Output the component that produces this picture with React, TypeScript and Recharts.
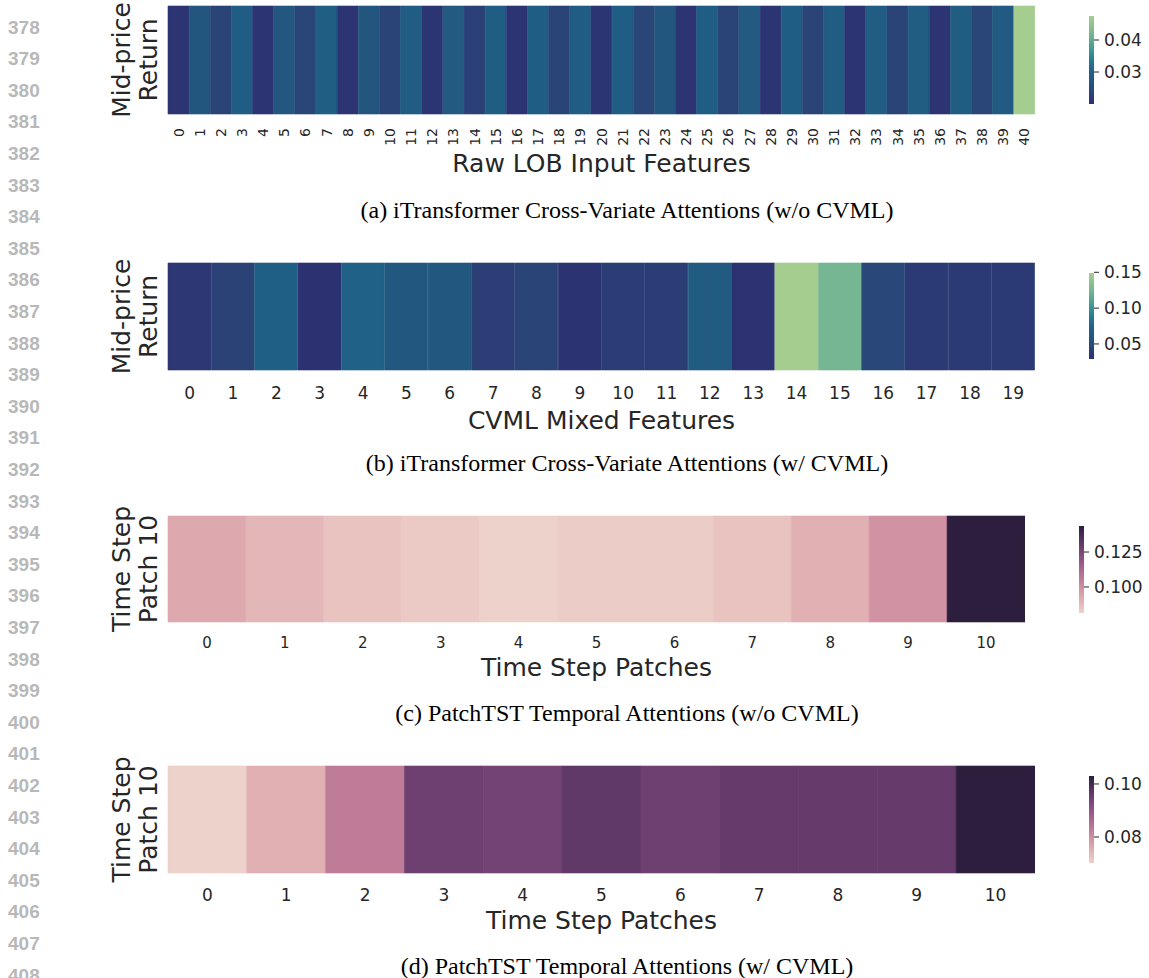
import { Bar, BarChart, Cell, XAxis, YAxis } from "recharts";

// categories
const rawFeatures = Array.from({ length: 41 }, (_, i) => String(i));
const mixedFeatures = Array.from({ length: 20 }, (_, i) => String(i));
const patches = Array.from({ length: 11 }, (_, i) => String(i));

// attention weights
const attnRaw = [
  0.0205, 0.0268, 0.0236, 0.029, 0.0205, 0.0272, 0.0238, 0.0292, 0.0206, 0.027,
  0.0237, 0.0288, 0.0207, 0.028, 0.023, 0.0289, 0.0206, 0.0291, 0.0236, 0.0288,
  0.0207, 0.0289, 0.0238, 0.0268, 0.0206, 0.029, 0.0237, 0.028, 0.0207, 0.0289,
  0.0236, 0.0287, 0.0206, 0.0288, 0.0237, 0.0286, 0.0206, 0.0286, 0.0238, 0.0284,
  0.0475,
];
const attnMixed = [
  0.034, 0.043, 0.071, 0.029, 0.073, 0.061, 0.061, 0.04, 0.045, 0.031,
  0.039, 0.039, 0.065, 0.03, 0.149, 0.125, 0.048, 0.037, 0.037, 0.037,
];
const attnTemporal = [0.0925, 0.0885, 0.0852, 0.0835, 0.0814, 0.0826, 0.0826, 0.0852, 0.0905, 0.0985, 0.1436];
const attnTemporalCvml = [0.0702, 0.075, 0.083, 0.0948, 0.094, 0.0964, 0.0948, 0.0958, 0.0958, 0.0958, 0.103];

// colorbar ranges and ticks
const domainRaw = [0.02, 0.0475];
const ticksRaw = [0.03, 0.04];
const domainMixed = [0.029, 0.149];
const ticksMixed = [0.05, 0.1, 0.15];
const domainTemporal = [0.0814, 0.1436];
const ticksTemporal = [0.1, 0.125];
const domainTemporalCvml = [0.0702, 0.103];
const ticksTemporalCvml = [0.08, 0.1];

const lineNumbers = Array.from({ length: 31 }, (_, i) => 378 + i);

const INK = "#262626";
const SANS = "'DejaVu Sans', sans-serif";
const SERIF = "'Liberation Serif', 'Times New Roman', serif";
const Y_W = 68;
const PAD = 24; // room above the plot for the rotated y labels

// crest (reversed): dark indigo -> light green
const CREST: [number, string][] = [
  [0, "#2c3172"],
  [0.12, "#2b4276"],
  [0.25, "#23567f"],
  [0.36, "#1f6086"],
  [0.5, "#2a7b93"],
  [0.65, "#45a093"],
  [0.8, "#77b692"],
  [1, "#a5cd90"],
];

const hexRgb = (h: string) => [1, 3, 5].map((k) => parseInt(h.slice(k, k + 2), 16));
const toHex = (c: number[]) =>
  "#" + c.map((v) => Math.round(Math.max(0, Math.min(255, v))).toString(16).padStart(2, "0")).join("");

function crest(t: number) {
  const u = Math.max(0, Math.min(1, t));
  for (let i = 1; i < CREST.length; i++) {
    const [p1, c1] = CREST[i];
    const [p0, c0] = CREST[i - 1];
    if (u <= p1) {
      const f = (u - p0) / (p1 - p0);
      const a = hexRgb(c0);
      const b = hexRgb(c1);
      return toHex(a.map((v, k) => v + (b[k] - v) * f));
    }
  }
  return CREST[CREST.length - 1][1];
}

// seaborn default cubehelix_palette (light pink -> dark purple)
function cubehelix(t: number) {
  const x = 0.85 - 0.7 * Math.max(0, Math.min(1, t));
  const a = (0.8 * x * (1 - x)) / 2;
  const phi = 2 * Math.PI * (0.4 * x);
  const c = Math.cos(phi);
  const s = Math.sin(phi);
  const r = x + a * (-0.14861 * c + 1.78277 * s);
  const g = x + a * (-0.29227 * c - 0.90649 * s);
  const b = x + a * (1.97294 * c);
  return toHex([r * 255, g * 255, b * 255]);
}

type HeatProps = {
  names: string[];
  values: number[];
  domain: number[];
  colorOf: (t: number) => string;
  left: number;
  top: number;
  plotW: number;
  plotH: number;
  tickFont: number;
  tickDy: number;
  rotate?: boolean;
  xLabel: string;
  xLabelDy: number;
  yLines: string[];
};

function Heatmap(p: HeatProps) {
  const [lo, hi] = p.domain;
  const rows = p.names.map((name, i) => ({ name, value: p.values[i], band: 1 }));
  const fillOf = (v: number) => p.colorOf((v - lo) / (hi - lo));
  const axisH = 80;
  const plotBottom = PAD + p.plotH;
  const midY = PAD + p.plotH / 2;

  const renderTick = (t: any) =>
    p.rotate ? (
      <text
        x={t.x}
        y={t.y + p.tickDy}
        transform={`rotate(-90, ${t.x}, ${t.y + p.tickDy})`}
        textAnchor="end"
        dominantBaseline="central"
        fontSize={p.tickFont}
        fontFamily={SANS}
        fill={INK}
      >
        {t.payload.value}
      </text>
    ) : (
      <text
        x={t.x}
        y={t.y + p.tickDy}
        textAnchor="middle"
        dominantBaseline="central"
        fontSize={p.tickFont}
        fontFamily={SANS}
        fill={INK}
      >
        {t.payload.value}
      </text>
    );

  return (
    <div style={{ position: "absolute", left: p.left - Y_W, top: p.top - PAD }}>
      <BarChart
        width={Y_W + p.plotW}
        height={PAD + p.plotH + axisH}
        data={rows}
        margin={{ top: PAD, right: 0, bottom: 0, left: 0 }}
        barCategoryGap={0}
        barGap={0}
      >
        <XAxis
          dataKey="name"
          interval={0}
          height={axisH}
          axisLine={false}
          tickLine={false}
          tickSize={0}
          tickMargin={0}
          tick={renderTick}
          label={() => (
            <text
              x={Y_W + p.plotW / 2}
              y={plotBottom + p.xLabelDy}
              textAnchor="middle"
              dominantBaseline="central"
              fontSize={25}
              fontFamily={SANS}
              fill={INK}
            >
              {p.xLabel}
            </text>
          )}
        />
        <YAxis
          domain={[0, 1]}
          width={Y_W}
          axisLine={false}
          tickLine={false}
          tick={false}
          label={() => (
            <g>
              {p.yLines.map((line, i) => (
                <text
                  key={line}
                  x={21 + i * 27}
                  y={midY}
                  transform={`rotate(-90, ${21 + i * 27}, ${midY})`}
                  textAnchor="middle"
                  dominantBaseline="central"
                  fontSize={25}
                  fontFamily={SANS}
                  fill={INK}
                >
                  {line}
                </text>
              ))}
            </g>
          )}
        />
        <Bar dataKey="band" isAnimationActive={false}>
          {rows.map((r, i) => (
            <Cell key={i} fill={fillOf(r.value)} stroke={fillOf(r.value)} strokeWidth={0.6} />
          ))}
        </Bar>
      </BarChart>
    </div>
  );
}

type BarProps = {
  id: string;
  domain: number[];
  ticks: number[];
  digits: number;
  colorOf: (t: number) => string;
  left: number;
  top: number;
  height: number;
};

function ColorBar(p: BarProps) {
  const stops = Array.from({ length: 21 }, (_, i) => i / 20);
  return (
    <div style={{ position: "absolute", left: p.left, top: p.top - 12 }}>
      <BarChart
        width={75}
        height={p.height + 24}
        data={[{ name: "cb", range: p.domain }]}
        margin={{ top: 12, right: 0, bottom: 12, left: 0 }}
        barCategoryGap={0}
      >
        <defs>
          <linearGradient id={p.id} x1="0" y1="1" x2="0" y2="0">
            {stops.map((s) => (
              <stop key={s} offset={s} stopColor={p.colorOf(s)} />
            ))}
          </linearGradient>
        </defs>
        <XAxis dataKey="name" hide />
        <YAxis
          orientation="right"
          type="number"
          domain={p.domain}
          ticks={p.ticks}
          allowDataOverflow
          width={70}
          axisLine={false}
          tickSize={5}
          tickMargin={5}
          tickLine={{ stroke: INK, strokeWidth: 1 }}
          tick={{ fontSize: 17, fill: INK, fontFamily: SANS }}
          tickFormatter={(v: number) => v.toFixed(p.digits)}
        />
        <Bar dataKey="range" fill={`url(#${p.id})`} isAnimationActive={false} />
      </BarChart>
    </div>
  );
}

const captions = [
  { text: "(a) iTransformer Cross-Variate Attentions (w/o CVML)", y: 210 },
  { text: "(b) iTransformer Cross-Variate Attentions (w/ CVML)", y: 463 },
  { text: "(c) PatchTST Temporal Attentions (w/o CVML)", y: 713 },
  { text: "(d) PatchTST Temporal Attentions (w/ CVML)", y: 966 },
];

export default function App() {
  return (
    <div
      style={{
        position: "absolute",
        left: 0,
        top: 0,
        width: 1149,
        height: 978,
        overflow: "hidden",
        background: "#fff",
      }}
    >
      <svg width={1149} height={978} style={{ position: "absolute", left: 0, top: 0 }}>
        {lineNumbers.map((n, i) => (
          <text
            key={n}
            x={8}
            y={27 + i * 31.6}
            dominantBaseline="central"
            fontSize={19}
            fontWeight="bold"
            fontFamily="'Liberation Sans', Arial, sans-serif"
            fill="#b8b8b8"
          >
            {n}
          </text>
        ))}
        {captions.map((c) => (
          <text
            key={c.text}
            x={627}
            y={c.y}
            textAnchor="middle"
            dominantBaseline="central"
            fontSize={24}
            fontFamily={SERIF}
            fill="#000"
          >
            {c.text}
          </text>
        ))}
      </svg>

      <Heatmap
        names={rawFeatures}
        values={attnRaw}
        domain={domainRaw}
        colorOf={crest}
        left={168}
        top={6}
        plotW={867}
        plotH={108}
        tickFont={14}
        tickDy={14}
        rotate
        xLabel="Raw LOB Input Features"
        xLabelDy={49}
        yLines={["Mid-price", "Return"]}
      />
      <ColorBar id="cbA" domain={domainRaw} ticks={ticksRaw} digits={2} colorOf={crest} left={1089} top={16} height={88} />

      <Heatmap
        names={mixedFeatures}
        values={attnMixed}
        domain={domainMixed}
        colorOf={crest}
        left={168}
        top={263}
        plotW={867}
        plotH={107}
        tickFont={17}
        tickDy={23}
        xLabel="CVML Mixed Features"
        xLabelDy={50}
        yLines={["Mid-price", "Return"]}
      />
      <ColorBar id="cbB" domain={domainMixed} ticks={ticksMixed} digits={2} colorOf={crest} left={1089} top={273} height={86} />

      <Heatmap
        names={patches}
        values={attnTemporal}
        domain={domainTemporal}
        colorOf={cubehelix}
        left={168}
        top={516}
        plotW={857}
        plotH={106}
        tickFont={15}
        tickDy={21}
        xLabel="Time Step Patches"
        xLabelDy={45}
        yLines={["Time Step", "Patch 10"]}
      />
      <ColorBar id="cbC" domain={domainTemporal} ticks={ticksTemporal} digits={3} colorOf={cubehelix} left={1079} top={526} height={87} />

      <Heatmap
        names={patches}
        values={attnTemporalCvml}
        domain={domainTemporalCvml}
        colorOf={cubehelix}
        left={168}
        top={766}
        plotW={867}
        plotH={107}
        tickFont={17}
        tickDy={22}
        xLabel="Time Step Patches"
        xLabelDy={47}
        yLines={["Time Step", "Patch 10"]}
      />
      <ColorBar id="cbD" domain={domainTemporalCvml} ticks={ticksTemporalCvml} digits={2} colorOf={cubehelix} left={1089} top={776} height={87} />
    </div>
  );
}
